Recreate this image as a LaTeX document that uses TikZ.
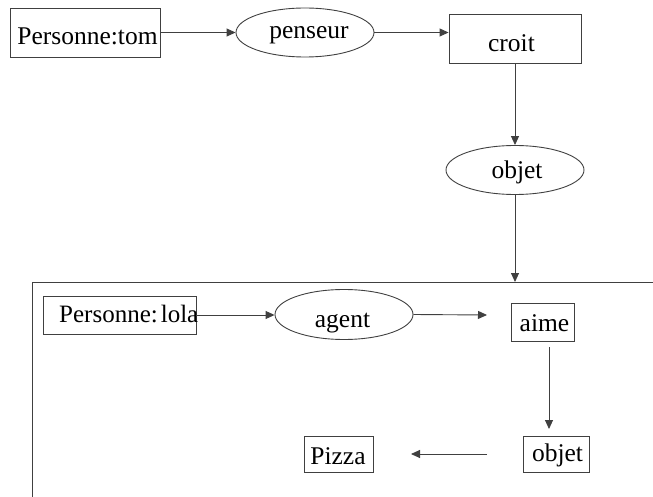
\documentclass[tikz,border=0pt]{standalone}
\usepackage{fontspec}
\setmainfont{Liberation Serif}
\usetikzlibrary{shapes.geometric,arrows.meta,calc}
\begin{document}
\begin{tikzpicture}[x=1pt,y=-1pt,
  every node/.style={font=\fontsize{25.5}{28}\selectfont, text=black},
  label/.style={anchor=base, inner sep=0pt},
  line/.style={draw=black!75, line width=0.9pt},
  concept/.style={line, rectangle, inner sep=0pt},
  relation/.style={line, ellipse, inner sep=0pt, minimum width=138pt, minimum height=49pt},
  arr/.style={line, -{Triangle[length=9pt,width=8pt]}}]
\useasboundingbox (0,0) rectangle (653,497);

% outer graph: tom thinks something
\node[concept, minimum width=150pt, minimum height=49pt] (tom) at (85,32.5) {};
\node[label] at (87.5,45) {Personne:tom};
\node[relation] (penseur) at (305,32.5) {};
\node[label] at (309,38.5) {penseur};
\node[concept, minimum width=132pt, minimum height=49pt] (croit) at (515,38.5) {};
\node[label] at (511.5,52) {croit};
\node[relation] (objet1) at (515,170) {};
\node[label] at (517,179) {objet};

% nested context
\draw[line] (653,282) -- (32,282) -- (32,497);
\coordinate (ctxtop) at (objet1.south |- 0,282);

\node[concept, minimum width=153pt, minimum height=38pt] (lola) at (119.5,315) {};
\node[label, anchor=base west, font=\fontsize{25}{28}\selectfont] at (59,322) {Personne:\hspace{3pt}lola};
\node[relation, minimum height=50pt] (agent) at (344,314.5) {};
\node[label] at (342.5,327) {agent};
\node[concept, minimum width=63pt, minimum height=38pt] (aime) at (542.5,322) {};
\node[label] at (544.5,331.5) {aime};
\node[concept, minimum width=66pt, minimum height=36pt] (objet2) at (556,454) {};
\node[label] at (557.5,461) {objet};
\node[concept, minimum width=69pt, minimum height=36pt] (pizza) at (338.5,454) {};
\node[label] at (338,464) {Pizza};

\coordinate (aimein) at (487,315);
\coordinate (aimeout) at (549,347);
\coordinate (objetin) at (549,429);
\coordinate (objetout) at (487,454);
\coordinate (pizzain) at (411,454);

% connectors
\draw[arr] (tom.east) -- (penseur.west);
\draw[arr] (penseur.east) -- (penseur.east -| croit.west);
\draw[arr] (croit.south) -- (objet1.north);
\draw[arr] (objet1.south) -- (ctxtop);
\draw[arr] (lola.east) -- (lola.east -| agent.west);
\draw[arr] (agent.east) -- (aimein);
\draw[arr] (aimeout) -- (objetin);
\draw[arr] (objetout) -- (pizzain);
\end{tikzpicture}
\end{document}
